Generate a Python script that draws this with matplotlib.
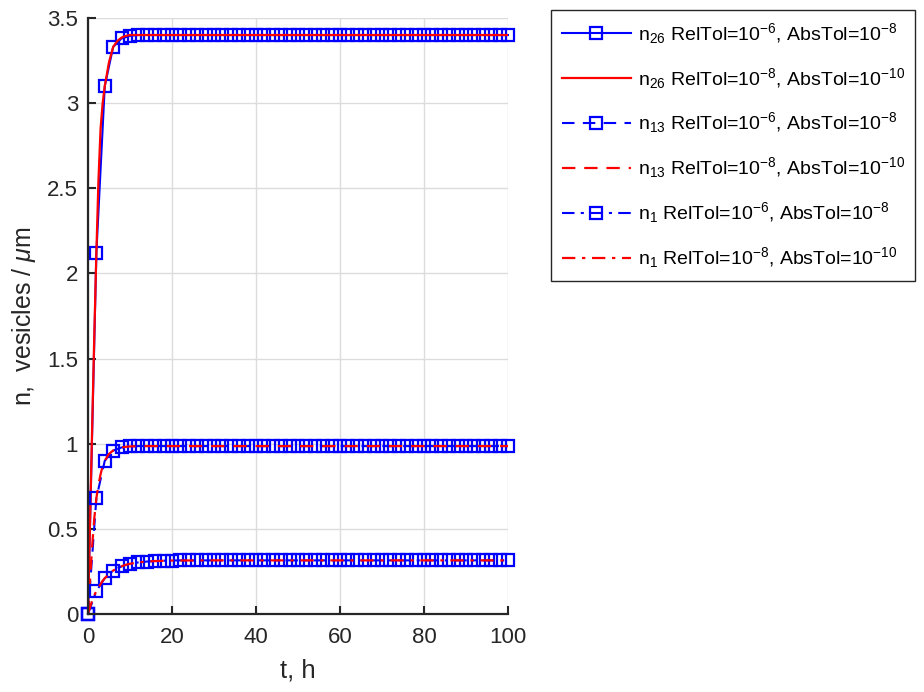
import matplotlib
matplotlib.use("Agg")
import matplotlib.pyplot as plt

plt.rcParams['font.family'] = ['Liberation Sans', 'DejaVu Sans']
plt.rcParams['mathtext.fontset'] = 'custom'
plt.rcParams['mathtext.rm'] = 'Liberation Sans'
plt.rcParams['mathtext.it'] = 'Liberation Sans:italic'
plt.rcParams['mathtext.bf'] = 'Liberation Sans:bold'

# coarse solver output (RelTol=1e-6, AbsTol=1e-8), one sample every 2 h
t_coarse = [0, 2, 4, 6, 8, 10, 12, 14, 16, 18, 20, 22, 24, 26, 28, 30, 32, 34, 36, 38,
            40, 42, 44, 46, 48, 50, 52, 54, 56, 58, 60, 62, 64, 66, 68, 70, 72, 74, 76, 78,
            80, 82, 84, 86, 88, 90, 92, 94, 96, 98, 100]
n26_coarse = [0.0, 2.12, 3.10, 3.33, 3.38, 3.395, 3.40, 3.40, 3.40, 3.40, 3.40, 3.40, 3.40,
              3.40, 3.40, 3.40, 3.40, 3.40, 3.40, 3.40, 3.40, 3.40, 3.40, 3.40, 3.40, 3.40,
              3.40, 3.40, 3.40, 3.40, 3.40, 3.40, 3.40, 3.40, 3.40, 3.40, 3.40, 3.40, 3.40,
              3.40, 3.40, 3.40, 3.40, 3.40, 3.40, 3.40, 3.40, 3.40, 3.40, 3.40, 3.40]
n13_coarse = [0.0, 0.68, 0.90, 0.96, 0.978, 0.984, 0.986, 0.986, 0.986, 0.986, 0.986, 0.986,
              0.986, 0.986, 0.986, 0.986, 0.986, 0.986, 0.986, 0.986, 0.986, 0.986, 0.986,
              0.986, 0.986, 0.986, 0.986, 0.986, 0.986, 0.986, 0.986, 0.986, 0.986, 0.986,
              0.986, 0.986, 0.986, 0.986, 0.986, 0.986, 0.986, 0.986, 0.986, 0.986, 0.986,
              0.986, 0.986, 0.986, 0.986, 0.986, 0.986]
n1_coarse = [0.0, 0.135, 0.21, 0.255, 0.28, 0.295, 0.303, 0.308, 0.311, 0.313, 0.314, 0.315,
             0.315, 0.315, 0.315, 0.315, 0.315, 0.315, 0.315, 0.315, 0.315, 0.315, 0.315,
             0.315, 0.315, 0.315, 0.315, 0.315, 0.315, 0.315, 0.315, 0.315, 0.315, 0.315,
             0.315, 0.315, 0.315, 0.315, 0.315, 0.315, 0.315, 0.315, 0.315, 0.315, 0.315,
             0.315, 0.315, 0.315, 0.315, 0.315, 0.315]

# fine solver output (RelTol=1e-8, AbsTol=1e-10)
t_fine = [0, 0.5, 1, 1.5, 2, 2.5, 3, 3.5, 4, 5, 6, 7, 8, 9, 10, 12, 14, 16, 20, 30,
          40, 50, 60, 70, 80, 90, 100]
n26_fine = [0.0, 0.55, 1.10, 1.63, 2.12, 2.55, 2.85, 3.00, 3.10, 3.24, 3.33, 3.365, 3.385,
            3.395, 3.40, 3.40, 3.40, 3.40, 3.40, 3.40, 3.40, 3.40, 3.40, 3.40, 3.40, 3.40, 3.40]
n13_fine = [0.0, 0.20, 0.40, 0.56, 0.68, 0.76, 0.82, 0.87, 0.90, 0.94, 0.96, 0.972, 0.978,
            0.982, 0.984, 0.986, 0.986, 0.986, 0.986, 0.986, 0.986, 0.986, 0.986, 0.986,
            0.986, 0.986, 0.986]
n1_fine = [0.0, 0.04, 0.08, 0.11, 0.135, 0.155, 0.175, 0.195, 0.21, 0.235, 0.255, 0.27,
           0.28, 0.289, 0.295, 0.303, 0.308, 0.311, 0.314, 0.315, 0.315, 0.315, 0.315,
           0.315, 0.315, 0.315, 0.315]

coarse_tag = r' RelTol=10$^{-6}$, AbsTol=10$^{-8}$'
fine_tag = r' RelTol=10$^{-8}$, AbsTol=10$^{-10}$'

BLUE = (0, 0, 1)
RED = (1, 0, 0)
DASH = (0, (6, 4))
DASHDOT = (0, (6, 3, 1.5, 3))

fig = plt.figure(figsize=(9.24, 6.92), dpi=100)
ax = fig.add_axes([0.0952, 0.1127, 0.4546, 0.8613])

mk = dict(marker='s', markersize=8, markerfacecolor='none', markeredgecolor=BLUE,
          markeredgewidth=1.6, clip_on=False)

ax.plot(t_coarse, n26_coarse, color=BLUE, lw=1.5, linestyle='-',
        label=r'n$_{26}$' + coarse_tag, **mk)
ax.plot(t_fine, n26_fine, color=RED, lw=1.6, linestyle='-',
        label=r'n$_{26}$' + fine_tag)
ax.plot(t_coarse, n13_coarse, color=BLUE, lw=1.5, linestyle=DASH,
        label=r'n$_{13}$' + coarse_tag, **mk)
ax.plot(t_fine, n13_fine, color=RED, lw=1.6, linestyle=DASH,
        label=r'n$_{13}$' + fine_tag)
ax.plot(t_coarse, n1_coarse, color=BLUE, lw=1.5, linestyle=DASHDOT,
        label=r'n$_{1}$' + coarse_tag, **mk)
ax.plot(t_fine, n1_fine, color=RED, lw=1.6, linestyle=DASHDOT,
        label=r'n$_{1}$' + fine_tag)

ax.set_xlim(0, 100)
ax.set_ylim(0, 3.5)
ax.set_xticks([0, 20, 40, 60, 80, 100])
ax.set_yticks([0, 0.5, 1, 1.5, 2, 2.5, 3, 3.5])
ax.set_yticklabels(['0', '0.5', '1', '1.5', '2', '2.5', '3', '3.5'])
ax.grid(True, color='#dcdcdc', lw=1)
ax.set_axisbelow(True)
for side in ('top', 'right'):
    ax.spines[side].set_visible(False)
for side in ('left', 'bottom'):
    ax.spines[side].set_linewidth(1.6)
    ax.spines[side].set_color('#262626')
ax.tick_params(direction='in', length=6, width=1.5, colors='#262626',
               labelsize=16, labelcolor='#262626')
ax.tick_params(axis='x', pad=9)
ax.tick_params(axis='y', pad=7)

ax.set_xlabel('t, h', fontsize=18.5, color='#262626', labelpad=8)
ax.set_ylabel(r'n,  vesicles / $\mu$m', fontsize=18, color='#262626', labelpad=7)

leg = fig.legend(loc='upper left', bbox_to_anchor=(551 / 924, 1 - 10 / 692),
                 fontsize=14, handlelength=3.55, labelspacing=1.03, borderpad=0.55,
                 handletextpad=0.35, fancybox=False, framealpha=1, edgecolor='#262626',
                 borderaxespad=0)
leg.get_frame().set_linewidth(1)
for txt in leg.get_texts():
    txt.set_color('black')

fig.savefig('out.png', dpi=100)
